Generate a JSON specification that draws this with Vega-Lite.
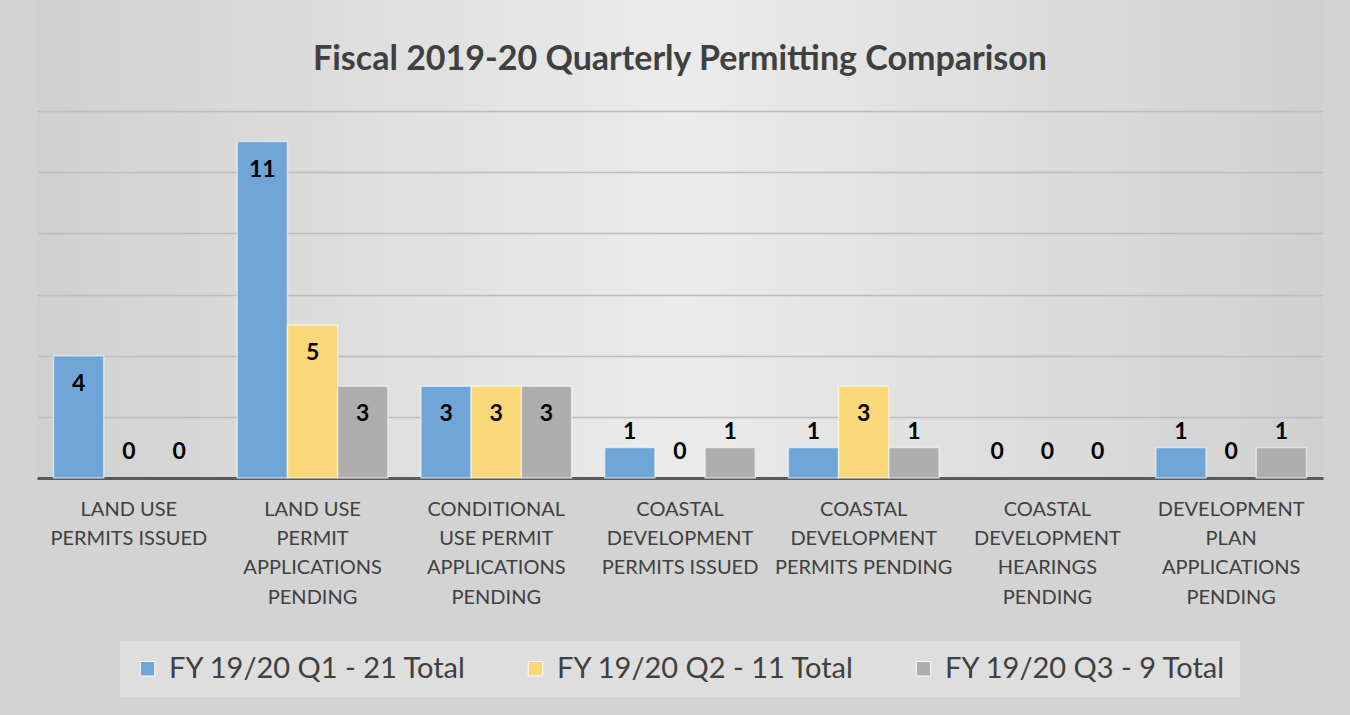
{
  "$schema": "https://vega.github.io/schema/vega-lite/v6.json",
  "width": 1286,
  "height": 478,
  "autosize": {"type": "none"},
  "padding": {"left": 37, "top": 0, "right": 27, "bottom": 237},
  "background": "#d3d3d3",
  "title": {
    "text": "Fiscal 2019-20 Quarterly Permitting Comparison",
    "font": "Lato",
    "fontSize": 34,
    "fontWeight": "bold",
    "color": "#404040",
    "anchor": "middle",
    "baseline": "alphabetic",
    "offset": -104
  },
  "config": {
    "view": {
      "stroke": null,
      "fill": {
        "gradient": "linear",
        "x1": 0, "y1": 0, "x2": 1, "y2": 0,
        "stops": [
          {"offset": 0, "color": "#d0d0d0"},
          {"offset": 0.25, "color": "#dedede"},
          {"offset": 0.5, "color": "#ebebeb"},
          {"offset": 0.75, "color": "#dedede"},
          {"offset": 1, "color": "#d0d0d0"}
        ]
      }
    },
    "legend": {
      "layout": {"bottom": {"anchor": "middle"}}
    }
  },
  "data": {
    "values": [
      {"category": "LAND USE|PERMITS ISSUED", "series": "FY 19/20 Q1 - 21 Total", "value": 4},
      {"category": "LAND USE|PERMITS ISSUED", "series": "FY 19/20 Q2 - 11 Total", "value": 0},
      {"category": "LAND USE|PERMITS ISSUED", "series": "FY 19/20 Q3 - 9 Total", "value": 0},
      {"category": "LAND USE|PERMIT|APPLICATIONS|PENDING", "series": "FY 19/20 Q1 - 21 Total", "value": 11},
      {"category": "LAND USE|PERMIT|APPLICATIONS|PENDING", "series": "FY 19/20 Q2 - 11 Total", "value": 5},
      {"category": "LAND USE|PERMIT|APPLICATIONS|PENDING", "series": "FY 19/20 Q3 - 9 Total", "value": 3},
      {"category": "CONDITIONAL|USE PERMIT|APPLICATIONS|PENDING", "series": "FY 19/20 Q1 - 21 Total", "value": 3},
      {"category": "CONDITIONAL|USE PERMIT|APPLICATIONS|PENDING", "series": "FY 19/20 Q2 - 11 Total", "value": 3},
      {"category": "CONDITIONAL|USE PERMIT|APPLICATIONS|PENDING", "series": "FY 19/20 Q3 - 9 Total", "value": 3},
      {"category": "COASTAL|DEVELOPMENT|PERMITS ISSUED", "series": "FY 19/20 Q1 - 21 Total", "value": 1},
      {"category": "COASTAL|DEVELOPMENT|PERMITS ISSUED", "series": "FY 19/20 Q2 - 11 Total", "value": 0},
      {"category": "COASTAL|DEVELOPMENT|PERMITS ISSUED", "series": "FY 19/20 Q3 - 9 Total", "value": 1},
      {"category": "COASTAL|DEVELOPMENT|PERMITS PENDING", "series": "FY 19/20 Q1 - 21 Total", "value": 1},
      {"category": "COASTAL|DEVELOPMENT|PERMITS PENDING", "series": "FY 19/20 Q2 - 11 Total", "value": 3},
      {"category": "COASTAL|DEVELOPMENT|PERMITS PENDING", "series": "FY 19/20 Q3 - 9 Total", "value": 1},
      {"category": "COASTAL|DEVELOPMENT|HEARINGS|PENDING", "series": "FY 19/20 Q1 - 21 Total", "value": 0},
      {"category": "COASTAL|DEVELOPMENT|HEARINGS|PENDING", "series": "FY 19/20 Q2 - 11 Total", "value": 0},
      {"category": "COASTAL|DEVELOPMENT|HEARINGS|PENDING", "series": "FY 19/20 Q3 - 9 Total", "value": 0},
      {"category": "DEVELOPMENT|PLAN|APPLICATIONS|PENDING", "series": "FY 19/20 Q1 - 21 Total", "value": 1},
      {"category": "DEVELOPMENT|PLAN|APPLICATIONS|PENDING", "series": "FY 19/20 Q2 - 11 Total", "value": 0},
      {"category": "DEVELOPMENT|PLAN|APPLICATIONS|PENDING", "series": "FY 19/20 Q3 - 9 Total", "value": 1}
    ]
  },
  "encoding": {
    "x": {
      "field": "category",
      "type": "nominal",
      "sort": null,
      "scale": {"paddingInner": 0.18, "paddingOuter": 0.09},
      "axis": {
        "title": null,
        "labelAngle": 0,
        "labelExpr": "split(datum.label, '|')",
        "labelFont": "Lato",
        "labelFontSize": 20,
        "labelColor": "#404040",
        "labelBaseline": "top",
        "labelPadding": 21,
        "labelLineHeight": 29.4,
        "labelLimit": 250,
        "ticks": false,
        "domainColor": "#595959",
        "domainWidth": 3
      }
    },
    "xOffset": {"field": "series", "type": "nominal", "sort": null},
    "y": {
      "field": "value",
      "type": "quantitative",
      "scale": {"domain": [0, 15.63], "nice": false},
      "axis": {
        "title": null,
        "labels": false,
        "ticks": false,
        "domain": false,
        "grid": true,
        "gridColor": "#bdbdbd",
        "gridWidth": 1.5,
        "values": [0, 2, 4, 6, 8, 10, 12]
      }
    }
  },
  "layer": [
    {
      "mark": {"type": "bar", "stroke": "#ffffff", "strokeWidth": 1.5},
      "encoding": {
        "strokeOpacity": {
          "condition": {"test": "datum.value == 0", "value": 0},
          "value": 0.55
        },
        "color": {
          "field": "series",
          "type": "nominal",
          "sort": null,
          "scale": {
            "domain": ["FY 19/20 Q1 - 21 Total", "FY 19/20 Q2 - 11 Total", "FY 19/20 Q3 - 9 Total"],
            "range": ["#70a5d8", "#f8d878", "#aeaeae"]
          },
          "legend": {
            "title": null,
            "orient": "bottom",
            "direction": "horizontal",
            "offset": 33,
            "labelFont": "Lato",
            "labelFontSize": 29,
            "labelColor": "#404040",
            "labelLimit": 400,
            "labelOffset": 7,
            "symbolType": "square",
            "symbolSize": 210,
            "symbolStrokeColor": "#ffffff",
            "symbolStrokeWidth": 1,
            "columnPadding": 54,
            "fillColor": "#dedede",
            "padding": 13
          }
        }
      }
    },
    {
      "transform": [{"filter": "datum.value >= 2"}],
      "mark": {"type": "text", "font": "Lato", "fontSize": 23, "fontWeight": "bold", "color": "#000000", "baseline": "middle", "dy": 28},
      "encoding": {"text": {"field": "value", "type": "quantitative"}}
    },
    {
      "transform": [{"filter": "datum.value == 1"}],
      "mark": {"type": "text", "font": "Lato", "fontSize": 23, "fontWeight": "bold", "color": "#000000", "baseline": "middle", "dy": -15},
      "encoding": {"text": {"field": "value", "type": "quantitative"}}
    },
    {
      "transform": [{"filter": "datum.value == 0"}],
      "mark": {"type": "text", "font": "Lato", "fontSize": 23, "fontWeight": "bold", "color": "#000000", "baseline": "middle", "dy": -26},
      "encoding": {"text": {"field": "value", "type": "quantitative"}}
    }
  ]
}
